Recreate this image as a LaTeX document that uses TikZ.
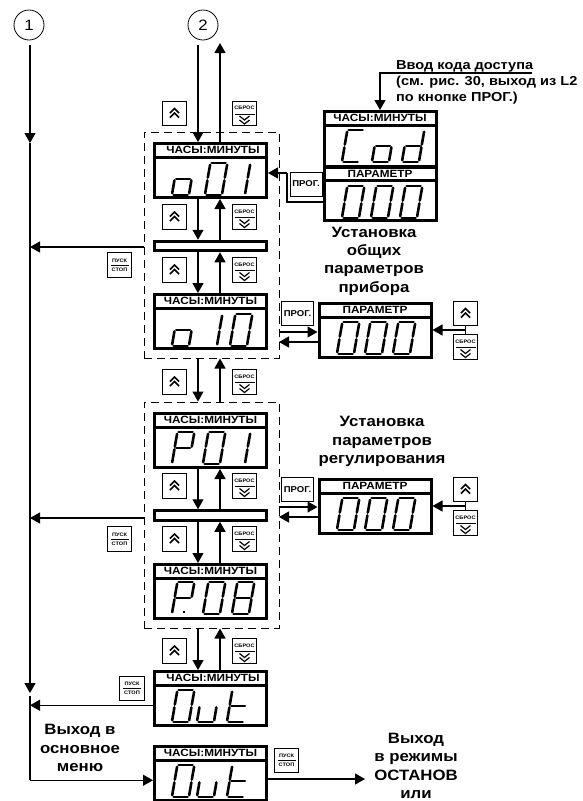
\documentclass[tikz,border=0pt]{standalone}
\usepackage{fontspec}
\setmainfont[FakeStretch=1.12]{Liberation Sans}
\usetikzlibrary{calc,arrows.meta}

% segments of one display digit, origin at its top left
\def\segpa{(6.6,0) -- (20.6,0)}
\def\segpb{(22.1,1.8) -- (19.8,14.6)}
\def\segpc{(19.4,17.4) -- (17.2,30.2)}
\def\segpd{(1.6,32) -- (15.6,32)}
\def\segpe{(2.4,17.4) -- (0.2,30.2)}
\def\segpf{(5.1,1.8) -- (2.8,14.6)}
\def\segpg{(4.2,16) -- (18,16)}

\begin{document}
\begin{tikzpicture}[
  x=1pt, y=-1pt,
  every node/.style={inner sep=0pt},
  dispcap/.style={rectangle, draw, line width=3pt, fill=white, minimum width=112pt,
    minimum height=13.5pt, font=\fontsize{10.5}{12}\selectfont\bfseries},
  dispbody/.style={rectangle, draw, line width=3pt, fill=white, minimum width=112pt,
    minimum height=40.5pt},
  blankbar/.style={rectangle, draw, line width=3pt, fill=white, minimum width=112pt,
    minimum height=9.5pt},
  dashgrp/.style={rectangle, draw, line width=1pt, dash pattern=on 8pt off 5pt,
    minimum width=135pt, minimum height=226pt},
  markcirc/.style={circle, draw, line width=0.8pt, minimum size=30pt, font=\fontsize{15}{17}\selectfont},
  arr/.style={-{Triangle[length=10pt,width=11pt]}, line width=1.2pt},
  wire/.style={line width=1.2pt},
  segline/.style={line width=2.6pt, line cap=round},
  btn/.style={rectangle, draw, line width=1pt, fill=white, minimum size=24.5pt},
  upbtn/.style={btn, path picture={
    \begin{scope}[shift={(path picture bounding box.center)}]
      \draw[line width=1.5pt] (-4.5,-0.5) -- (0,-5) -- (4.5,-0.5);
      \draw[line width=1.5pt] (-4.5,4) -- (0,-0.5) -- (4.5,4);
    \end{scope}}},
  rstbtn/.style={btn, path picture={
    \begin{scope}[shift={(path picture bounding box.center)}]
      \node[tinytxt] (rsttxt) at (0,-5.5) {СБРОС};
      \draw[line width=0.8pt] (-10,0.5) -- (10,0.5);
      \draw[line width=1.2pt] (-5,2.5) -- (0,6.5) -- (5,2.5);
      \draw[line width=1.2pt] (-5,6.5) -- (0,10.5) -- (5,6.5);
    \end{scope}}},
  runbtn/.style={btn, align=center, font=\fontsize{5}{9}\selectfont\bfseries, path picture={
    \draw[line width=0.8pt] ($(path picture bounding box.center)+(-9,0)$) -- ($(path picture bounding box.center)+(9,0)$);}},
  tinytxt/.style={font=\fontsize{5}{6}\selectfont\bfseries},
  progbtn/.style={rectangle, draw, line width=1pt, fill=white, minimum width=32pt,
    minimum height=24pt, font=\fontsize{8.5}{9}\selectfont\bfseries},
  note/.style={align=center, font=\fontsize{15}{18.3}\selectfont\bfseries},
  pics/segd/.style={code={\foreach \s in {#1} {\draw[segline] \csname segp\s\endcsname;}}},
]
\useasboundingbox (0,0) rectangle (582,801);

% dashed groups
\node[dashgrp] (grp1) at (211.5,245) {};
\node[dashgrp] (grp2) at (211.5,515) {};

\node[markcirc] (one) at (29,25) {1};
\node[markcirc] (two) at (203,25) {2};

\coordinate (colD) at (198,0);
\coordinate (colU) at (220,0);
\coordinate (bus) at (30,0);
\coordinate (twoin) at (198,45);
\coordinate (upout) at (220,43);
\coordinate (onein) at (30,45);
\coordinate (busmid) at (30,143);
\coordinate (busend) at (30,693);
\coordinate (busnext) at (30,696);
\coordinate (exit1) at (144,247);
\coordinate (exit2) at (144,518);
\coordinate (accline) at (532,73);
\coordinate (outend) at (365,779);

% === main column ===
\node[dispcap] (o01cap) at (210.5,150.25) {\hspace*{5pt}ЧАСЫ:МИНУТЫ};
\node[dispbody] (o01) at (210.5,177.25) {};
\pic at (172,163) {segd={c,d,e,g}};
\pic at (205,163) {segd={a,b,c,d,e,f}};
\pic at (228,163) {segd={b,c}};

\node[blankbar] (bar1) at (210.5,246) {};

\node[dispcap] (o10cap) at (210.5,301.25) {ЧАСЫ:МИНУТЫ};
\node[dispbody] (o10) at (210.5,328.25) {};
\pic at (172,314) {segd={c,d,e,g}};
\pic at (200,314) {segd={b,c}};
\pic at (230,314) {segd={a,b,c,d,e,f}};

\node[dispcap] (p01cap) at (210.5,420.25) {ЧАСЫ:МИНУТЫ};
\node[dispbody] (p01) at (210.5,447.25) {};
\pic at (172,432) {segd={a,b,e,f,g}};
\pic at (203,432) {segd={a,b,c,d,e,f}};
\pic at (228,432) {segd={b,c}};

\node[blankbar] (bar2) at (210.5,515.5) {};

\node[dispcap] (p08cap) at (210.5,571.25) {ЧАСЫ:МИНУТЫ};
\node[dispbody] (p08) at (210.5,598.25) {};
\pic at (172,582) {segd={a,b,e,f,g}};
\fill (183,611) rectangle (185,613);
\pic at (203,582) {segd={a,b,c,d,e,f}};
\pic at (232,582) {segd={a,b,c,d,e,f,g}};

\node[dispcap] (outcap) at (210.5,678.25) {\hspace*{5pt}ЧАСЫ:МИНУТЫ};
\node[dispbody] (out) at (210.5,705.25) {};
\pic at (172,690) {segd={a,b,c,d,e,f}};
\pic at (197,690) {segd={c,d,e}};
\pic at (227,690) {segd={d,e,f,g}};

\node[dispcap] (lastcap) at (210.5,753.25) {ЧАСЫ:МИНУТЫ};
\node[dispbody] (last) at (210.5,780.25) {};
\pic at (172,765) {segd={a,b,c,d,e,f}};
\pic at (197,765) {segd={c,d,e}};
\pic at (227,765) {segd={d,e,f,g}};

% === right column ===
\node[dispcap] (codcap) at (380,118.25) {ЧАСЫ:МИНУТЫ};
\node[dispbody, minimum height=41pt] (cod) at (380,146) {};
\pic at (342,130) {segd={a,d,e,f}};
\pic at (372,130) {segd={c,d,e,g}};
\pic at (402,130) {segd={b,c,d,e,g}};
\node[dispcap, minimum height=13pt] (parcap) at (380,173.5) {ПАРАМЕТР};
\node[dispbody] (par) at (380,200.5) {};
\pic at (342,186) {segd={a,b,c,d,e,f}};
\pic at (371,186) {segd={a,b,c,d,e,f}};
\pic at (400,186) {segd={a,b,c,d,e,f}};

\node[dispcap] (parAcap) at (375,310.25) {ПАРАМЕТР};
\node[dispbody] (parA) at (375,337.25) {};
\pic at (337,322) {segd={a,b,c,d,e,f}};
\pic at (365,322) {segd={a,b,c,d,e,f}};
\pic at (393,322) {segd={a,b,c,d,e,f}};

\node[dispcap] (parBcap) at (375,486.25) {ПАРАМЕТР};
\node[dispbody] (parB) at (375,513.25) {};
\pic at (337,498) {segd={a,b,c,d,e,f}};
\pic at (365,498) {segd={a,b,c,d,e,f}};
\pic at (393,498) {segd={a,b,c,d,e,f}};

% === connectors ===
\draw[arr] (onein) -- (busmid);
\draw[arr] (busmid) -- (busend);
\draw[wire] (busnext) -- (bus |- last);
\draw[arr] (bus |- last) -- (last.west);
\draw[arr] (exit1) -- (bus |- exit1);
\draw[arr] (exit2) -- (bus |- exit2);
\draw[arr] (out.west) -- (bus |- out);

\draw[arr] (twoin) -- (colD |- o01cap.north);
\draw[arr] (colU |- o01cap.north) -- (upout);
\draw[arr] (colD |- o01.south) -- (colD |- bar1.north);
\draw[arr] (colU |- bar1.north) -- (colU |- o01.south);
\draw[arr] (colD |- bar1.south) -- (colD |- o10cap.north);
\draw[arr] (colU |- o10cap.north) -- (colU |- bar1.south);
\draw[arr] (colD |- grp1.south) -- (colD |- grp2.north);
\draw[arr] (colU |- grp2.north) -- (colU |- grp1.south);
\draw[arr] (colD |- p01.south) -- (colD |- bar2.north);
\draw[arr] (colU |- bar2.north) -- (colU |- p01.south);
\draw[arr] (colD |- bar2.south) -- (colD |- p08cap.north);
\draw[arr] (colU |- p08cap.north) -- (colU |- bar2.south);
\draw[arr] (colD |- grp2.south) -- (colD |- outcap.north);
\draw[arr] (colU |- outcap.north) -- (colU |- grp2.south);
\draw[arr] (last.east |- outend) -- (outend);

\draw[arr] (accline) -| (codcap.north);
\coordinate (progA) at (287,173);
\coordinate (progB) at (287,202);
\draw[wire] (progB -| par.west) -- (progB) -- (progA);
\draw[arr] (progA) -- (o01.east |- progA);

\coordinate (aIn) at (279,332);
\coordinate (aOut) at (279,342);
\draw[arr] (aIn) -- (parA.west |- aIn);
\draw[arr] (parA.west |- aOut) -- (aOut);
\coordinate (bIn) at (279,507);
\coordinate (bOut) at (279,517);
\draw[arr] (bIn) -- (parB.west |- bIn);
\draw[arr] (parB.west |- bOut) -- (bOut);

% === buttons ===
\node[upbtn] (up1) at (174.5,113.5) {};
\node[rstbtn] (rst1) at (244.5,113.5) {};
\node[upbtn] (up2) at (174.5,217) {};
\node[rstbtn] (rst2) at (244.5,217) {};
\node[upbtn] (up3) at (174.5,270) {};
\node[rstbtn] (rst3) at (244.5,270) {};
\node[upbtn] (up4) at (174.5,382) {};
\node[rstbtn] (rst4) at (244.5,382) {};
\node[upbtn] (up5) at (174.5,486) {};
\node[rstbtn] (rst5) at (244.5,486) {};
\node[upbtn] (up6) at (174.5,539) {};
\node[rstbtn] (rst6) at (244.5,539) {};
\node[upbtn] (up7) at (174.5,651) {};
\node[rstbtn] (rst7) at (244.5,651) {};

\node[runbtn] (run1) at (119.5,265) {ПУСК\\СТОП};
\node[runbtn] (run2) at (119.5,539) {ПУСК\\СТОП};
\node[runbtn] (run3) at (132,688.5) {ПУСК\\СТОП};
\node[runbtn] (run4) at (286.5,760.5) {ПУСК\\СТОП};

\node[progbtn] (prog1) at (306,184) {ПРОГ.};
\node[progbtn] (prog2) at (297.5,313.5) {ПРОГ.};
\node[progbtn] (prog3) at (297.5,489.5) {ПРОГ.};

\node[upbtn] (upA) at (465.5,313.5) {};
\node[rstbtn] (rstA) at (465.5,347) {};
\node[upbtn] (upB) at (465.5,489.5) {};
\node[rstbtn] (rstB) at (465.5,523) {};
\draw[wire] (upA.south) -- (rstA.north);
\draw[wire] (upB.south) -- (rstB.north);
\coordinate (setA) at (465.5,330);
\coordinate (setB) at (465.5,506);
\draw[arr] (setA) -- (parA.east |- setA);
\draw[arr] (setB) -- (parB.east |- setB);

% === labels ===
\node[font=\fontsize{13}{16}\selectfont\bfseries, align=left, anchor=north west] (accnote) at (396,60) {Ввод кода доступа\\(см. рис. 30, выход из L2\\по кнопке ПРОГ.)};
\node[note] (setcommon) at (374,261) {Установка\\общих\\параметров\\прибора};
\node[note] (setreg) at (382,441.5) {Установка\\параметров\\регулирования};
\node[note] (exitmenu) at (80,748) {Выход в\\основное\\меню};
\node[note] (exitstop) at (416,766) {Выход\\в режимы\\ОСТАНОВ\\или};
\end{tikzpicture}
\end{document}
